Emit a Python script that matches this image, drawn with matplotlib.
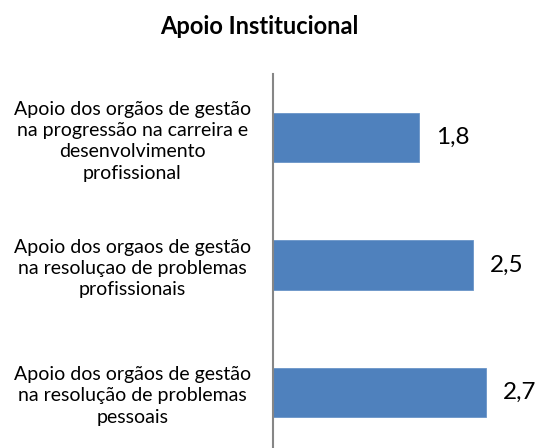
import matplotlib
matplotlib.use("Agg")
import matplotlib.pyplot as plt

plt.rcParams['font.family'] = ['Lato', 'DejaVu Sans']

categories = [
    "Apoio dos orgãos de gestão\nna progressão na carreira e\ndesenvolvimento\nprofissional",
    "Apoio dos orgaos de gestão\nna resoluçao de problemas\nprofissionais",
    "Apoio dos orgãos de gestão\nna resolução de problemas\npessoais",
]
# bar lengths; labels show them rounded to one decimal
values = [1.83, 2.5, 2.66]
value_labels = ["1,8", "2,5", "2,7"]
title = "Apoio Institucional"

bar_color = "#4F81BD"
axis_color = "#868686"

fig = plt.figure(figsize=(5.37, 4.48), dpi=100)
# axes box in figure pixels: left at the vertical axis line
ax = fig.add_axes([273 / 537, (448 - 456) / 448, (537 - 273) / 537, (456 - 74) / 448])

pos = list(range(len(categories)))
ax.barh(pos, values, height=0.39, color=bar_color, edgecolor="#6A95C8", linewidth=0.6)
ax.set_ylim(2.5, -0.5)
ax.set_xlim(0, 3.3)

for y, v, lab in zip(pos, values, value_labels):
    ax.text(v + 0.21, y, lab, va="center", ha="left", fontsize=17.5)

ax.set_yticks(pos)
ax.set_yticklabels(categories, fontsize=14, multialignment="center", linespacing=1.3)
ax.tick_params(axis="y", length=0, pad=16)
ax.set_xticks([])

for side in ["top", "right", "bottom"]:
    ax.spines[side].set_visible(False)
ax.spines["left"].set_color(axis_color)
ax.spines["left"].set_linewidth(1.5)

fig.text(259 / 537, 1 - 27 / 448, title, ha="center", va="center",
         fontsize=17, fontweight="bold")

fig.savefig("out.png", dpi=100)
